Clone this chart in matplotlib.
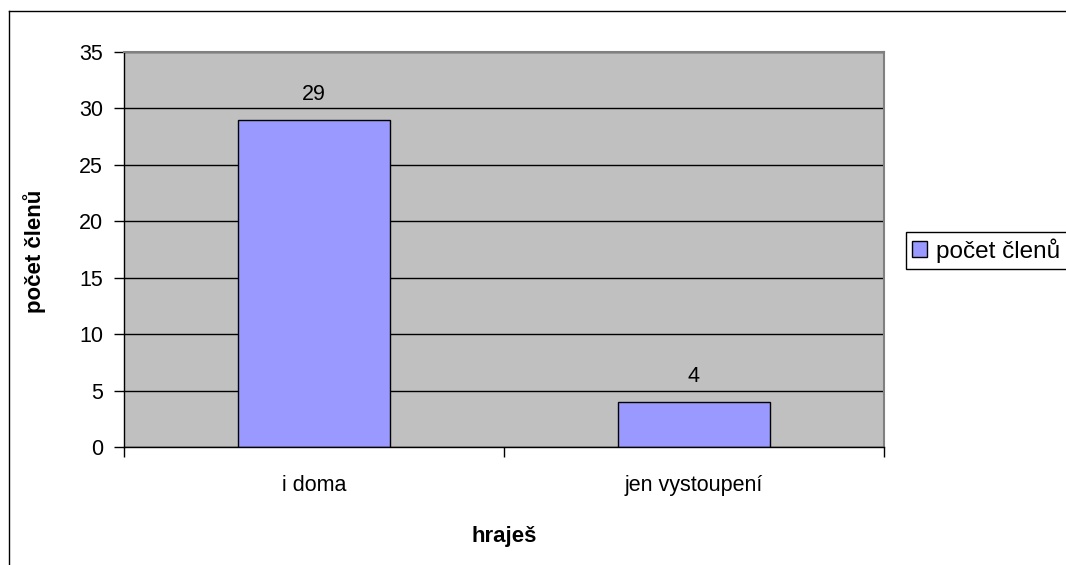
import matplotlib.pyplot as plt
from matplotlib.lines import Line2D

kategorie = ["i doma", "jen vystoupení"]
pocet = [29, 4]
serie = "počet členů"

plt.rcParams['font.family'] = ['Liberation Sans', 'DejaVu Sans']

fig = plt.figure(figsize=(10.66, 5.65), dpi=100)
ax = fig.add_axes([124/1066, 1-447/565, 760/1066, 395/565])

# ramecek kolem celeho grafu (vpravo a dole oriznuty)
x0, y0 = 8.5/1066, 1-10.5/565
fig.add_artist(Line2D([x0, 1.2], [y0, y0], transform=fig.transFigure, color='black', linewidth=1.0))
fig.add_artist(Line2D([x0, x0], [y0, -0.2], transform=fig.transFigure, color='black', linewidth=1.0))

ax.set_facecolor('#C0C0C0')
ax.set_axisbelow(True)
ax.yaxis.grid(True, color='black', linewidth=1.0)

x = range(len(kategorie))
bars = ax.bar(x, pocet, width=0.4, color='#9999FF', edgecolor='black', linewidth=1.0, label=serie)
ax.bar_label(bars, labels=[str(v) for v in pocet], padding=10.5, fontsize=15.5)

ax.set_ylim(0, 35)
ax.set_yticks(range(0, 36, 5))
ax.set_xlim(-0.5, 1.5)
ax.set_xticks(list(x))
ax.set_xticklabels(kategorie)
ax.set_xticks([-0.5, 0.5, 1.5], minor=True)
ax.tick_params(axis='x', which='major', length=0, pad=20, labelsize=15.5)
ax.tick_params(axis='x', which='minor', length=7, width=1, direction='out')
ax.tick_params(axis='y', length=7, width=1, direction='out', pad=8, labelsize=15.5)

for s in ['top', 'right']:
    ax.spines[s].set_color('#808080')
    ax.spines[s].set_linewidth(1.5)
for s in ['left', 'bottom']:
    ax.spines[s].set_color('black')
    ax.spines[s].set_linewidth(1.0)

ax.set_ylabel(serie, fontsize=16, fontweight='bold')
ax.yaxis.set_label_coords(-0.1026, 0.494)
ax.set_xlabel("hraješ", fontsize=16, fontweight='bold')
ax.xaxis.set_label_coords(0.5, -0.2)

leg = fig.legend(loc='upper left', bbox_to_anchor=(906/1066, 1-232/565), borderaxespad=0,
                 fontsize=17.5, fancybox=False, edgecolor='black', framealpha=1,
                 handlelength=0.6, handleheight=0.6, handletextpad=0.4, borderpad=0.25)
leg.get_frame().set_linewidth(1.0)

fig.savefig('out.png', dpi=100)
